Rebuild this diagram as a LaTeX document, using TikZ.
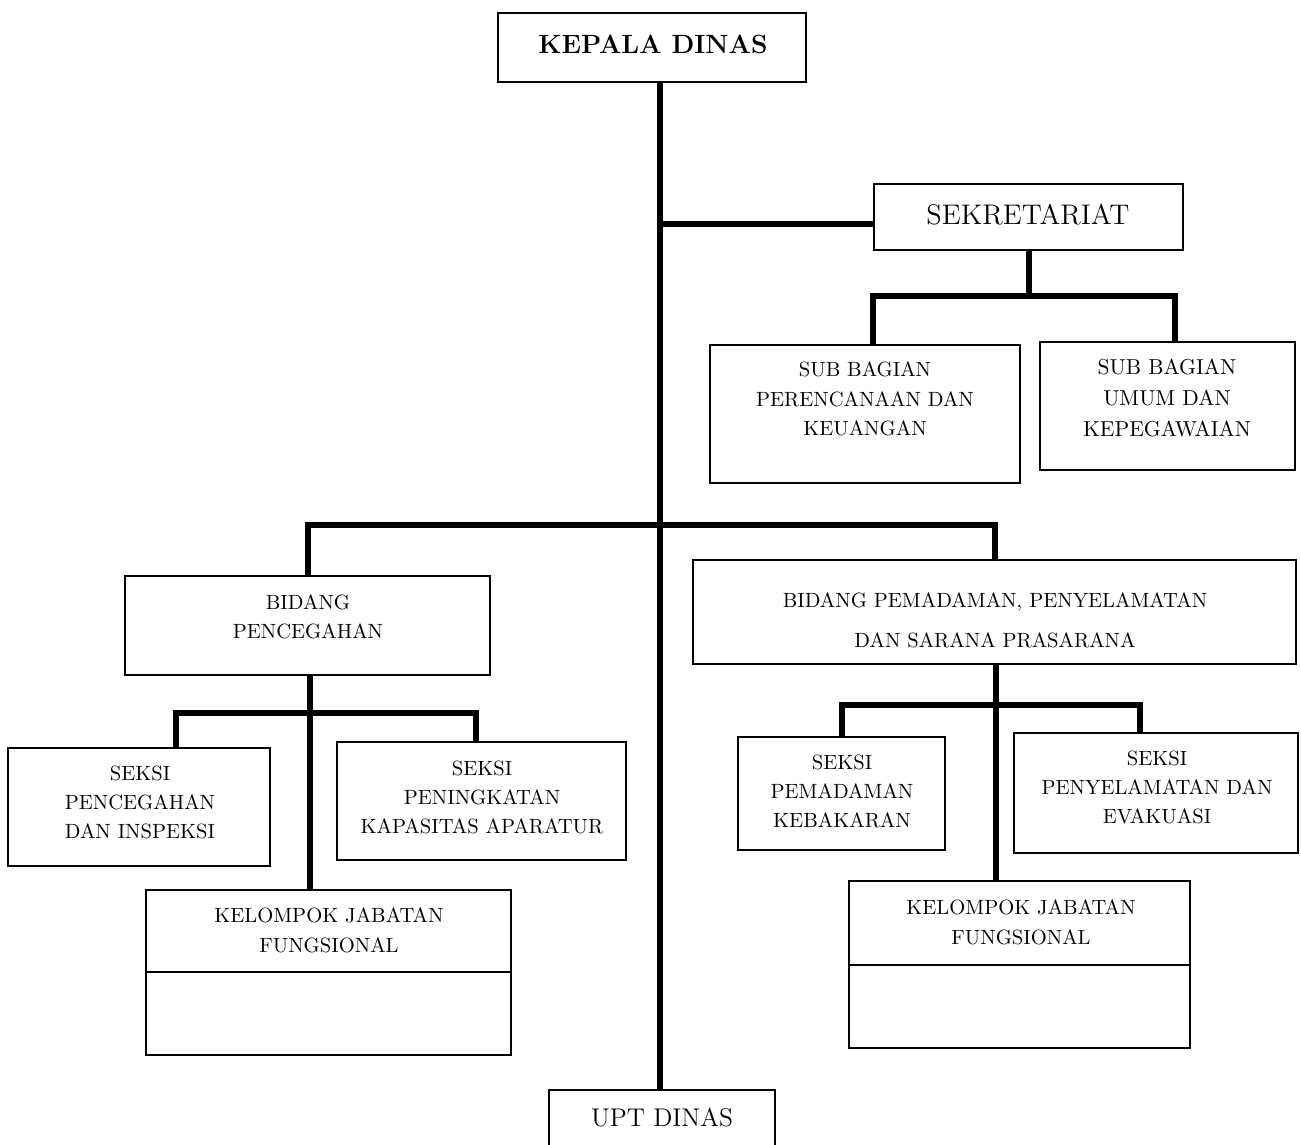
\documentclass[tikz,border=0pt]{standalone}
\usepackage{fontspec}
\newcommand\bx[5]{\node[box, minimum width={(#4-#2)*0.5pt}, minimum height={(#5-#3)*0.5pt}] (#1) at ({(#2+#4)/2},{(#3+#5)/2}) {};}
\begin{document}
\begin{tikzpicture}[x=0.5pt,y=-0.5pt,
  box/.style={draw, line width=1pt, inner sep=0pt, rectangle},
  hidbox/.style={inner sep=0pt, rectangle},
  conn/.style={line width=3pt},
  txt/.style={align=center, inner sep=0pt, font=\fontsize{10.3}{14.5}\selectfont}]
\useasboundingbox[fill=white] (0,0) rectangle (1301,1145);

% boxes
\bx{kd}{498}{13}{806}{82}
\bx{sek}{874}{184}{1183}{250}
\bx{sb1}{710}{345}{1020}{483}
\bx{sb2}{1040}{342}{1295}{470}
\bx{bp}{125}{576}{490}{675}
\bx{bm}{693}{560}{1296}{664}
\bx{s1}{8}{748}{270}{866}
\bx{s2}{337}{742}{626}{860}
\bx{s3}{738}{737}{945}{850}
\bx{s4}{1014}{733}{1298}{853}
\bx{kl}{146}{890}{511}{1055}
\bx{kr}{849}{881}{1190}{1048}
\node[hidbox, minimum width=113pt, minimum height=30pt] (upt) at (662,1120) {};
\draw[line width=1pt] (upt.south west) -- (upt.north west) -- (upt.north east) -- (upt.south east);

% dividers in Kelompok boxes
\coordinate (dl) at (0,972);
\coordinate (dr) at (0,965);
\draw[line width=1pt] (kl.west |- dl) -- (kl.east |- dl);
\draw[line width=1pt] (kr.west |- dr) -- (kr.east |- dr);

% texts
\node[inner sep=0pt, font=\bfseries\fontsize{13.2}{15}\selectfont] (tkd) at (653,44) {KEPALA DINAS};
\node[inner sep=0pt, font=\fontsize{14.2}{17}\selectfont] (tsek) at (1028,215) {SEKRETARIAT};
\node[txt, font=\fontsize{10.3}{14.7}\selectfont] (tsb1) at (865,399) {SUB BAGIAN\\PERENCANAAN DAN\\KEUANGAN};
\node[txt, font=\fontsize{10.8}{15.5}\selectfont] (tsb2) at (1167,398) {SUB BAGIAN\\UMUM DAN\\KEPEGAWAIAN};
\node[txt] (tbp) at (308,617) {BIDANG\\PENCEGAHAN};
\node[txt, font=\fontsize{10.3}{20}\selectfont] (tbm) at (995,620) {BIDANG PEMADAMAN, PENYELAMATAN\\DAN SARANA PRASARANA};
\node[txt] (ts1) at (140,802) {SEKSI\\PENCEGAHAN\\DAN INSPEKSI};
\node[txt] (ts2) at (482,797) {SEKSI\\PENINGKATAN\\KAPASITAS APARATUR};
\node[txt] (ts3) at (842,791) {SEKSI\\PEMADAMAN\\KEBAKARAN};
\node[txt] (ts4) at (1157,787) {SEKSI\\PENYELAMATAN DAN\\EVAKUASI};
\node[txt, font=\fontsize{10.3}{15}\selectfont] (tkl) at (329,930) {KELOMPOK JABATAN\\FUNGSIONAL};
\node[txt, font=\fontsize{10.3}{15}\selectfont] (tkr) at (1021,922) {KELOMPOK JABATAN\\FUNGSIONAL};
\node[inner sep=0pt, font=\fontsize{12.8}{15}\selectfont] (tupt) at (662,1118) {UPT DINAS};

% connectors
\coordinate (sp) at (660,0);
\coordinate (ysek) at (0,224);
\draw[conn] (kd.south -| sp) -- (upt.north -| sp);
\draw[conn] (sp |- ysek) -- (sek.west |- ysek);

\coordinate (js) at (1028,296);
\coordinate (x873) at (873,0);
\coordinate (x1175) at (1175,0);
\draw[conn] (sek.south) -- (sek.south |- js);
\draw[conn] (sb1.north -| x873) |- (js) -| (sb2.north -| x1175);

\coordinate (jb) at (660,525);
\draw[conn] (bp.north) |- (jb) -| (bm.north);

\coordinate (x310) at (310,0);
\coordinate (jp) at (310,713);
\coordinate (x176) at (176,0);
\coordinate (x476) at (476,0);
\draw[conn] (bp.south -| x310) -- (kl.north -| x310);
\draw[conn] (s1.north -| x176) |- (jp) -| (s2.north -| x476);

\coordinate (x996) at (996,0);
\coordinate (jm) at (996,705);
\coordinate (x1140) at (1140,0);
\draw[conn] (bm.south -| x996) -- (kr.north -| x996);
\draw[conn] (s3.north) |- (jm) -| (s4.north -| x1140);
\end{tikzpicture}
\end{document}
